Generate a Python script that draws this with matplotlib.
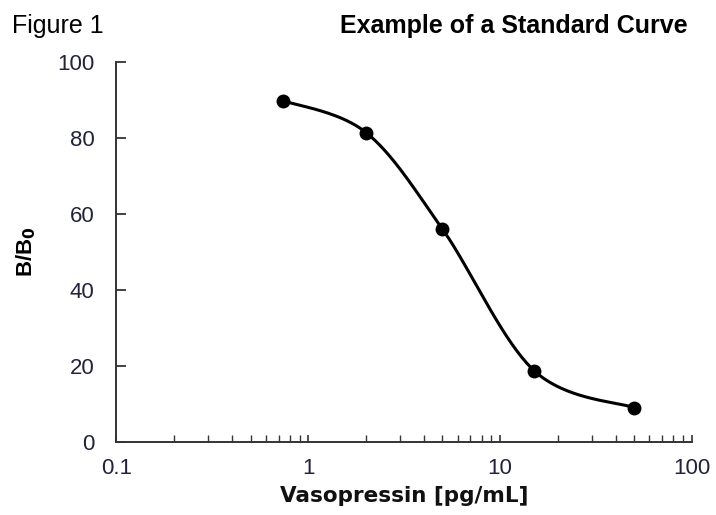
import numpy as np
import matplotlib
matplotlib.use("Agg")
import matplotlib.pyplot as plt
from matplotlib.ticker import FixedLocator, LogLocator, NullFormatter

plt.rcParams['font.family'] = ['Liberation Sans', 'DejaVu Sans']

# standard curve readings
conc = [0.74, 2, 5, 15, 50]          # pg/mL
bb0 = [89.8, 81.4, 56.0, 18.7, 8.9]  # B/B0 (%)
yticks = [0, 20, 40, 60, 80, 100]
xticks = [0.1, 1, 10, 100]
xticklabels = ["0.1", "1", "10", "100"]


def smooth(xs, ys, n=40):
    # excel-like smoothed line: bezier segments, control points from neighbours (log x space)
    lx = np.log10(xs)
    ys = np.array(ys, dtype=float)
    px, py = [], []
    m = len(lx)
    for i in range(m - 1):
        x0, y0 = lx[max(i - 1, 0)], ys[max(i - 1, 0)]
        x1, y1 = lx[i], ys[i]
        x2, y2 = lx[i + 1], ys[i + 1]
        x3, y3 = lx[min(i + 2, m - 1)], ys[min(i + 2, m - 1)]
        c1x, c1y = x1 + (x2 - x0) / 6, y1 + (y2 - y0) / 6
        c2x, c2y = x2 - (x3 - x1) / 6, y2 - (y3 - y1) / 6
        t = np.linspace(0, 1, n)
        bx = (1-t)**3*x1 + 3*(1-t)**2*t*c1x + 3*(1-t)*t**2*c2x + t**3*x2
        by = (1-t)**3*y1 + 3*(1-t)**2*t*c1y + 3*(1-t)*t**2*c2y + t**3*y2
        px.extend(bx)
        py.extend(by)
    return 10**np.array(px), np.array(py)


fig = plt.figure(figsize=(7.16, 5.15), dpi=100)
ax = fig.add_axes([0.1627, 0.1427, 0.8038, 0.737])

sx, sy = smooth(conc, bb0)
ax.plot(sx, sy, color='black', lw=2.2, solid_capstyle='round')
ax.plot(conc, bb0, 'o', color='black', ms=9)

ax.set_xscale('log')
ax.set_xlim(0.1, 100)
ax.set_ylim(0, 100)
ax.xaxis.set_major_locator(FixedLocator(xticks))
ax.set_xticklabels(xticklabels)
ax.xaxis.set_minor_locator(LogLocator(base=10, subs=np.arange(2, 10)))
ax.xaxis.set_minor_formatter(NullFormatter())
ax.set_yticks(yticks)

ax.spines['top'].set_visible(False)
ax.spines['right'].set_visible(False)
for s in ['left', 'bottom']:
    ax.spines[s].set_linewidth(1.4)
    ax.spines[s].set_color('#333333')

tickcol = '#22223a'
ax.tick_params(axis='y', direction='in', length=7, width=1.3, labelsize=16,
               pad=16, color='#333333', labelcolor=tickcol)
ax.tick_params(axis='x', which='major', direction='in', length=5, width=1.2,
               labelsize=16, pad=12, color='#333333', labelcolor=tickcol)
ax.tick_params(axis='x', which='minor', direction='in', length=5, width=1.0,
               color='#333333')

ax.set_xlabel("Vasopressin [pg/mL]", fontsize=15.5, fontweight='bold',
              family='DejaVu Sans', labelpad=5, color='#111111')
ax.set_ylabel("B/B$_\\mathbf{0}$", fontsize=16, fontweight='bold', labelpad=14)

fig.text(0.0168, 0.936, "Figure 1", fontsize=18, va='baseline')
fig.text(0.961, 0.936, "Example of a Standard Curve", fontsize=18,
         fontweight='bold', ha='right', va='baseline')

fig.savefig("out.png", dpi=100)
